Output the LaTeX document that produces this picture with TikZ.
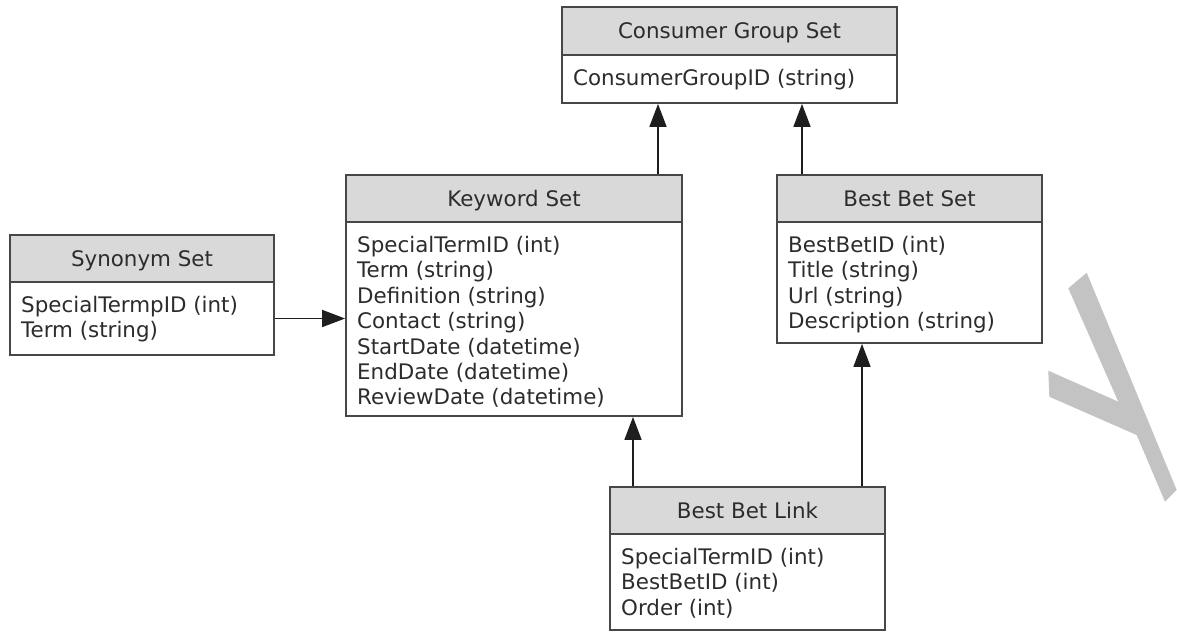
\documentclass[tikz,border=0pt]{standalone}
\usepackage{fontspec}
\setmainfont{DejaVu Sans}
\usetikzlibrary{arrows.meta}

\definecolor{hdrfill}{HTML}{D9D9D9}
\definecolor{edge}{HTML}{474747}
\definecolor{ink}{HTML}{2C2C2C}
\definecolor{wire}{HTML}{1E1E1E}
\definecolor{markgray}{HTML}{C3C3C3}

\tikzset{
  entfont/.style={font=\fontsize{21.4}{25.4}\selectfont, text=ink},
  hdrbox/.style={draw=edge, line width=1.8pt, fill=hdrfill, inner sep=0pt,
                 text height=15.6pt, text depth=0pt, entfont},
  bodybox/.style={draw=edge, line width=1.8pt, fill=white, inner sep=0pt},
  rowtext/.style={inner sep=0pt, anchor=base west, entfont},
  conn/.style={draw=wire, line width=1.6pt,
               -{Triangle[length=23pt,width=17pt]}},
}

% \entity{name}{left}{top}{divider}{right}{bottom}{title}{rows}
\newcommand\entity[8]{%
  \node[hdrbox, minimum width={#5-#2}, minimum height={#4-#3}]
    (#1-h) at ({(#2+#5)/2},{(#3+#4)/2}) {#7};
  \node[bodybox, minimum width={#5-#2}, minimum height={#6-#4}]
    (#1-b) at ({(#2+#5)/2},{(#4+#6)/2}) {};
  \node[rowtext] (#1-t) at ({#2+11},{#4+30.5})
    {\begin{tabular}[t]{@{}l@{}}#8\end{tabular}};
}

\begin{document}
\begin{tikzpicture}[x=1pt, y=-1pt]
  \fill[white] (0,0) rectangle (1177,632);
  \useasboundingbox (0,0) rectangle (1177,632);

  % grey mark at the right edge
  \fill[markgray] (1086.7,272.7) -- (1176.7,490) -- (1165,501.7)
     -- (1136.7,435) -- (1049.3,396.7) -- (1048.3,370.7)
     -- (1118.3,401.7) -- (1068.3,288.3) -- cycle;

  \entity{cg}{562}{7}{55}{897}{103}{Consumer Group Set}
    {ConsumerGroupID (string)}
  \entity{kw}{346}{175}{222}{682}{416}{Keyword Set}
    {SpecialTermID (int)\\ Term (string)\\ Definition (string)\\
     Contact (string)\\ StartDate (datetime)\\ EndDate (datetime)\\
     ReviewDate (datetime)}
  \entity{bbs}{777}{175}{222}{1042}{343}{Best Bet Set}
    {BestBetID (int)\\ Title (string)\\ Url (string)\\ Description (string)}
  \entity{syn}{10}{235}{282}{274}{355}{Synonym Set}
    {SpecialTermpID (int)\\ Term (string)}
  \entity{bbl}{610}{487}{534}{885}{630}{Best Bet Link}
    {SpecialTermID (int)\\ BestBetID (int)\\ Order (int)}

  % attachment points on the source boxes
  \coordinate (kwup)  at ([xshift=144pt]kw-h.north);
  \coordinate (bbsup) at ([xshift=-107.5pt]bbs-h.north);
  \coordinate (kwin)  at (syn-b.east);
  \coordinate (lnkkw) at ([xshift=-114.5pt]bbl-h.north);
  \coordinate (lnkbb) at ([xshift=114.5pt]bbl-h.north);

  \draw[conn] (kwup)  -- (kwup |- cg-b.south);
  \draw[conn] (bbsup) -- (bbsup |- cg-b.south);
  \draw[conn] (kwin)  -- (kwin -| kw-b.west);
  \draw[conn] (lnkkw) -- (lnkkw |- kw-b.south);
  \draw[conn] (lnkbb) -- (lnkbb |- bbs-b.south);
\end{tikzpicture}
\end{document}
